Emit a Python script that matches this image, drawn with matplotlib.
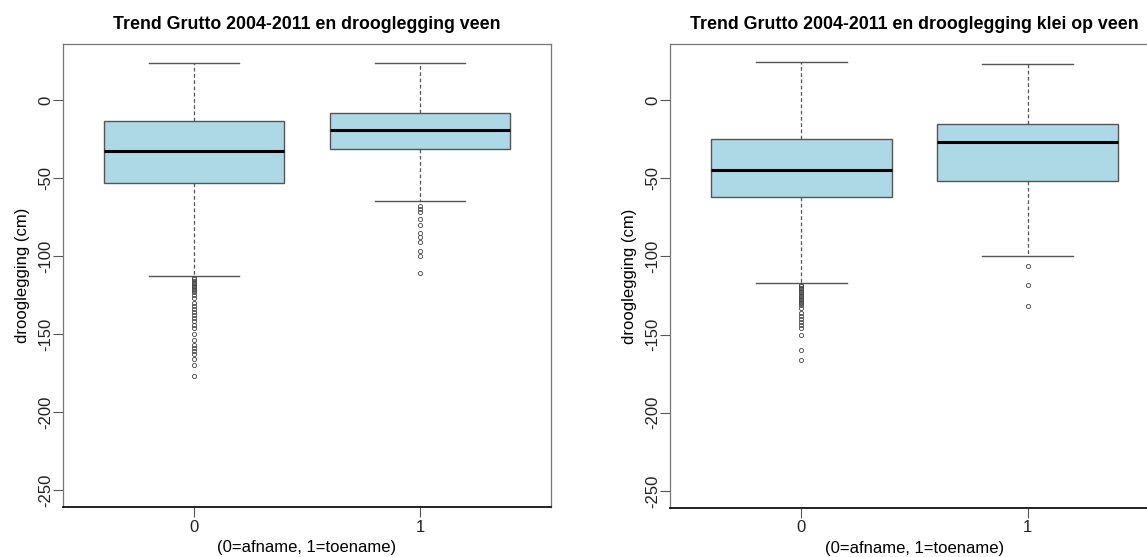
import matplotlib
matplotlib.use("Agg")
import matplotlib.pyplot as plt

plt.rcParams['font.family'] = ['Liberation Sans', 'DejaVu Sans']

# categories on the x axis
groups = ["0", "1"]

# left panel: veen
veen_whishi = [24, 24]
veen_q3 = [-13.5, -8.5]
veen_med = [-32.5, -19]
veen_q1 = [-53, -31.5]
veen_whislo = [-113, -65]
veen_fliers_0 = [-114, -115, -116, -117, -118, -119, -120, -121, -122, -123, -125,
                 -127, -130, -132, -134, -136, -138, -140, -142, -144, -146, -150,
                 -154, -157, -159, -161, -163, -166, -170, -177]
veen_fliers_1 = [-68, -70, -72, -76, -80, -85, -88, -91, -97, -100, -111]

# right panel: klei op veen
klei_whishi = [24.5, 23]
klei_q3 = [-24.5, -15.5]
klei_med = [-44.5, -26.5]
klei_q1 = [-62, -51.5]
klei_whislo = [-117, -100]
klei_fliers_0 = [-118, -119, -120, -121, -122, -123, -124, -125, -126, -127, -128,
                 -129, -130, -131, -133, -136, -138, -140, -142, -144, -146, -150,
                 -160, -166]
klei_fliers_1 = [-106, -118, -132]

titles = ["Trend Grutto 2004-2011 en drooglegging veen",
          "Trend Grutto 2004-2011 en drooglegging klei op veen"]
xlabel = "(0=afname, 1=toename)"
ylabel = "drooglegging (cm)"
yticks = [0, -50, -100, -150, -200, -250]


def make_stats(whislo, q1, med, q3, whishi, fliers):
        stats = []
        for i in range(len(med)):
                stats.append({"whislo": whislo[i], "q1": q1[i], "med": med[i],
                              "q3": q3[i], "whishi": whishi[i], "fliers": fliers[i]})
        return stats


panels = [
        make_stats(veen_whislo, veen_q1, veen_med, veen_q3, veen_whishi,
                   [veen_fliers_0, veen_fliers_1]),
        make_stats(klei_whislo, klei_q1, klei_med, klei_q3, klei_whishi,
                   [klei_fliers_0, klei_fliers_1]),
]

W, H = 1147, 557
fig = plt.figure(figsize=(W / 100, H / 100), dpi=100)
# axes rectangles in pixels (left, top, right, bottom)
rects = [(63, 44, 551, 507), (670, 44, 1159, 508)]

edge = "#555555"
for stats, title, (l, t, r, b) in zip(panels, titles, rects):
        ax = fig.add_axes([l / W, (H - b) / H, (r - l) / W, (b - t) / H])
        ax.bxp(stats, positions=[1, 2], widths=0.8, patch_artist=True,
               boxprops=dict(facecolor="#ADD8E6", edgecolor=edge, linewidth=1.0),
               medianprops=dict(color="black", linewidth=2.2),
               whiskerprops=dict(color=edge, linewidth=0.9, linestyle=(0, (3, 2))),
               capprops=dict(color=edge, linewidth=1.0),
               capwidths=0.4,
               flierprops=dict(marker="o", markersize=3.0, markerfacecolor="none",
                               markeredgecolor="#444444", markeredgewidth=0.6))
        ax.set_xlim(0.42, 2.58)
        ax.set_ylim(-261, 36)
        ax.set_xticks([1, 2])
        ax.set_xticklabels(groups, fontsize=12, color="#222222")
        ax.set_yticks(yticks)
        ax.set_yticklabels([str(v) for v in yticks], fontsize=12, rotation=90,
                           va="center", color="#222222")
        ax.tick_params(axis="both", direction="out", length=7, width=0.8, color=edge)
        ax.tick_params(axis="y", pad=0)
        ax.tick_params(axis="x", pad=2)
        for s in ax.spines.values():
                s.set_color("#777777")
                s.set_linewidth(0.9)
        ax.spines["bottom"].set_color("#111111")
        ax.spines["bottom"].set_linewidth(1.3)
        ax.set_title(title, fontsize=12.8, fontweight="bold", pad=11)
        ax.set_xlabel(xlabel, fontsize=12, labelpad=4)
        ax.set_ylabel(ylabel, fontsize=12, labelpad=6)

fig.savefig("out.png", dpi=100)
